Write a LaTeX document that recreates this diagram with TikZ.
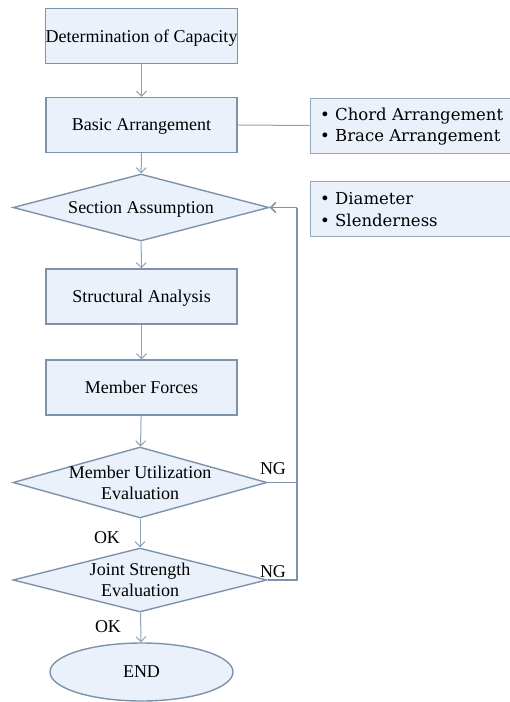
\documentclass[tikz,border=0pt]{standalone}
\usepackage{fontspec}
\setmainfont{Liberation Serif}
\newfontfamily\notefont{DejaVu Serif}
\usetikzlibrary{shapes.geometric,arrows.meta}

\definecolor{boxfill}{HTML}{EAF1FA}
\definecolor{boxline}{HTML}{7E93AA}
\definecolor{linkline}{HTML}{8FA3B8}

\tikzset{
  stepbox/.style={draw=boxline, line width=1.4pt, fill=boxfill,
    minimum width=191pt, minimum height=55pt, inner sep=0pt, text depth=0pt,
    font=\fontsize{18}{21}\selectfont},
  checkbox/.style={diamond, draw=boxline, line width=1.4pt, fill=boxfill,
    aspect=3.8, inner xsep=-90pt, inner ysep=-25pt, align=center, text depth=0pt,
    font=\fontsize{18}{21}\selectfont},
  endbox/.style={ellipse, draw=boxline, line width=1.4pt, fill=boxfill,
    minimum width=183pt, minimum height=58pt,
    font=\fontsize{18}{21}\selectfont},
  notebox/.style={draw=boxline!80, line width=0.9pt, fill=boxfill,
    minimum width=202pt, minimum height=55pt, inner sep=0pt},
  notetext/.style={anchor=west, inner sep=0pt,
    font=\notefont\fontsize{16.5}{19}\selectfont},
  link/.style={draw=linkline, line width=1pt, -{Straight Barb[length=5pt,width=10pt]}},
  loop/.style={draw=boxline, line width=1.5pt},
  tag/.style={font=\fontsize{18}{21}\selectfont, inner sep=0pt}
}

\begin{document}
\begin{tikzpicture}[x=1pt, y=-1pt]
  \useasboundingbox (0,0) rectangle (510,702);
  % main chain
  \node[stepbox] (cap) at (141.5,36) {Determination of Capacity};
  \node[stepbox] (arr) at (141.5,125) {Basic Arrangement};
  \node[checkbox, minimum width=256pt, minimum height=67pt] (sec) at (141,207.5) {Section Assumption};
  \node[stepbox] (ana) at (141.5,296.5) {Structural Analysis};
  \node[stepbox] (frc) at (141.5,387.5) {Member Forces};
  \node[checkbox, minimum width=254pt, minimum height=71pt] (uti) at (140,482.5) {Member Utilization\\Evaluation};
  \node[checkbox, minimum width=254pt, minimum height=64pt] (jnt) at (140,580) {Joint Strength\\Evaluation};
  \node[endbox] (fin) at (141.5,672) {END};

  % side notes
  \node[notebox] (arrnote) at (411,125.5) {};
  \node[notetext] at (320,116) {\textbullet\ Chord Arrangement};
  \node[notetext] at (320,137) {\textbullet\ Brace Arrangement};
  \node[notebox] (secnote) at (411,208.5) {};
  \node[notetext] at (320,199) {\textbullet\ Diameter};
  \node[notetext] at (320,220) {\textbullet\ Slenderness};
  \draw[draw=linkline, line width=1pt] (arr.east) -- (arrnote.west);

  % arrows
  \draw[link] (cap) -- (arr);
  \draw[link] (arr) -- (sec);
  \draw[link] (sec) -- (ana);
  \draw[link] (ana) -- (frc);
  \draw[link] (frc) -- (uti);
  \draw[link] (uti) -- (jnt);
  \draw[link] (jnt) -- (fin);

  % feedback
  \coordinate (back) at (297,0);
  \draw[loop] (jnt.east) -- (jnt.east -| back) -- (uti.east -| back);
  \draw[loop] (uti.east) -- (uti.east -| back) -- (sec.east -| back);
  \draw[link, draw=boxline, line width=1.5pt] (sec.east -| back) -- (sec.east);

  % labels
  \node[tag] (ng1) at (273,469) {NG};
  \node[tag] (ng2) at (273,572) {NG};
  \node[tag] (ok1) at (107,538) {OK};
  \node[tag] (ok2) at (108,627) {OK};
\end{tikzpicture}
\end{document}
